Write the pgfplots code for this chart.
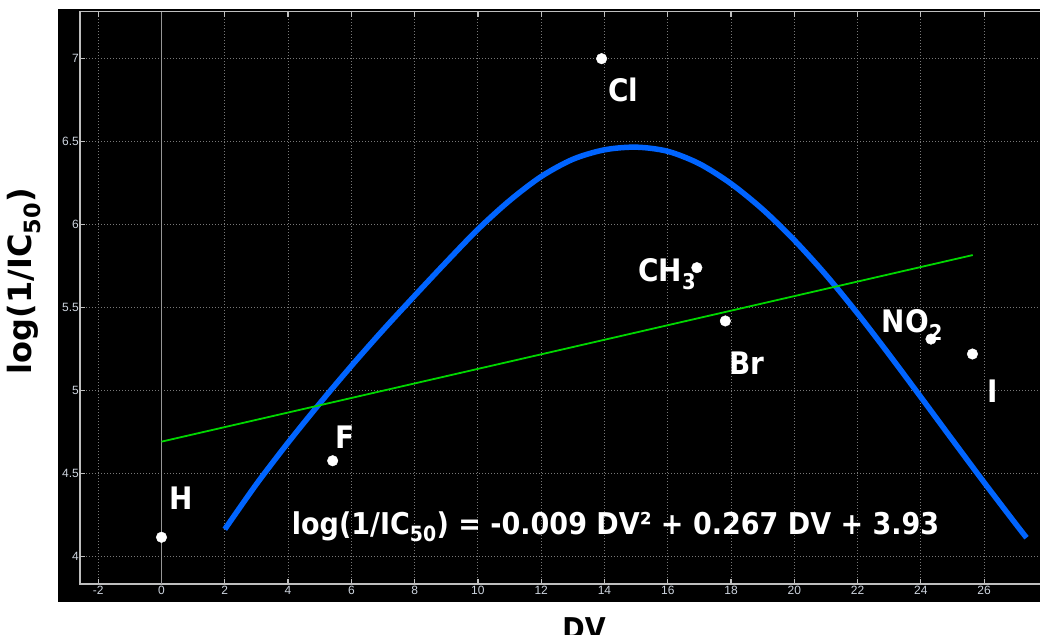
\documentclass[border=0pt]{standalone}
\usepackage{fontspec}
\setmainfont{DejaVu Sans}
\newfontfamily\lblfont[FakeStretch=0.9]{DejaVu Sans}
\newfontfamily\ylblfont{DejaVu Sans}
\newfontfamily\tickfont{Liberation Sans}
\usepackage{pgfplots}
\pgfplotsset{compat=1.18}
\definecolor{bluec}{RGB}{0,100,255}
\definecolor{greenc}{RGB}{0,215,0}
\definecolor{tickc}{RGB}{205,212,222}
\definecolor{axisc}{RGB}{190,190,190}
\definecolor{gridc}{RGB}{120,120,120}
\definecolor{zeroc}{RGB}{150,150,150}
\begin{document}
\begin{tikzpicture}
\path[use as bounding box] (0bp,0bp) rectangle (1040bp,635bp);
\fill[black] (58bp,33bp) rectangle (1040bp,626bp);
\begin{axis}[
  at={(80bp,51bp)}, anchor=south west,
  x=31.64bp, y=166bp,
  xmin=-2.576, xmax=28.3, ymin=3.8355, ymax=7.283,
  xtick={-2,0,...,28}, ytick={4,4.5,...,7},
  tick label style={font=\tickfont\fontsize{12bp}{14bp}\selectfont, text=tickc},
  /pgf/number format/assume math mode=true,
  yticklabel style={inner sep=1bp},
  xticklabel style={inner sep=2bp},
  grid=major,
  major grid style={gridc, line width=1bp, dash pattern=on 1bp off 2bp},
  axis line style={axisc, line width=1.3bp},
  tick style={axisc, line width=1.2bp},
  major tick length=5bp,
  tick align=inside,
  extra x ticks={0}, extra x tick labels={},
  extra x tick style={grid=major, major grid style={solid, zeroc, line width=1.6bp}, major tick length=0pt},
  every node/.style={text=white},
]
\addplot[color=bluec, line width=5.5bp, smooth, tension=0.5] coordinates {
(2,4.165) (3,4.437) (4,4.687) (5,4.923) (6,5.149) (7,5.365) (8,5.572) (9,5.775)
(10,5.972) (11,6.145) (12,6.290) (13,6.394) (14,6.451) (15,6.467) (16,6.442)
(17,6.367) (18,6.247) (19,6.092) (20,5.907) (21,5.697) (22,5.465) (23,5.217)
(24,4.961) (25,4.703) (26,4.447) (27,4.197) (27.34,4.114)};
\addplot[color=greenc, line width=1.8bp] coordinates {(0,4.693) (25.64,5.817)};
\addplot[only marks, mark=*, mark size=5.3bp, mark options={fill=white, draw=white}] coordinates {
(0,4.117) (5.41,4.578) (13.91,7.0) (16.92,5.741) (17.82,5.42) (24.32,5.311) (25.63,5.221)};
\begin{scope}[every node/.style={text=white, inner sep=0pt, font=\lblfont\bfseries\fontsize{31bp}{36bp}\selectfont}]
\node at (axis cs:0.616,4.354) {H};
\node at (axis cs:5.80,4.718) {F};
\node at (axis cs:14.59,6.811) {Cl};
\node[anchor=base west] at (axis cs:15.06,5.655) {CH\textsubscript{3}};
\node at (axis cs:18.50,5.167) {Br};
\node[anchor=base west] at (axis cs:22.76,5.349) {NO\textsubscript{2}};
\node at (axis cs:26.28,4.998) {I};
\end{scope}
\node[anchor=base west, inner sep=0pt, text=white, font=\lblfont\bfseries\fontsize{30bp}{36bp}\selectfont]
  at (axis cs:4.115,4.131) {log(1/IC\textsubscript{50}) = -0.009 DV² + 0.267 DV + 3.93};
\end{axis}
\node[rotate=90, inner sep=0pt, font=\ylblfont\bfseries\fontsize{32bp}{38bp}\selectfont] at (24bp,354bp) {log(1/IC\textsubscript{50})};
\node[anchor=north, inner sep=0pt, font=\lblfont\bfseries\fontsize{30bp}{36bp}\selectfont] at (584bp,18bp) {DV};
\end{tikzpicture}
\end{document}
